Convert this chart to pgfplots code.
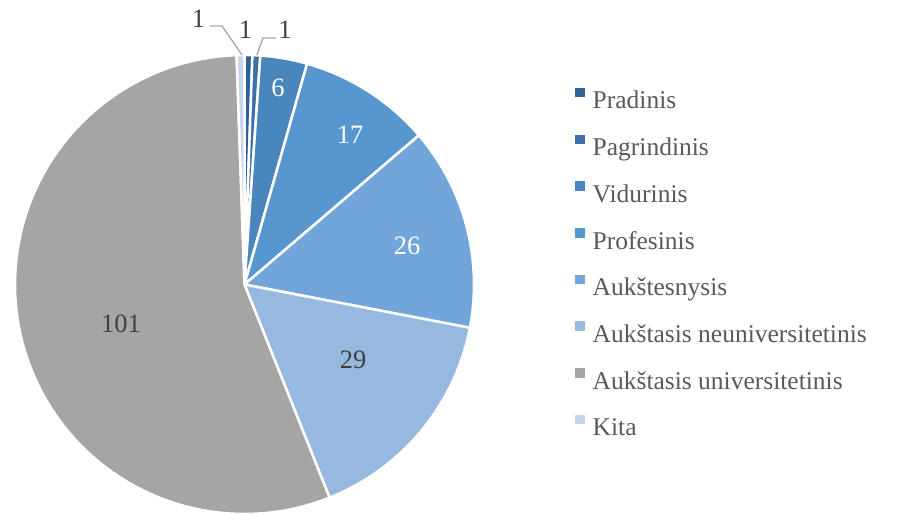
\documentclass[border=0pt]{standalone}
\usepackage{fontspec}
\setmainfont{Liberation Serif}
\usepackage{pgfplots}
\pgfplotsset{compat=1.18}
\definecolor{c1}{HTML}{2F6296}
\definecolor{c2}{HTML}{3B70A8}
\definecolor{c3}{HTML}{4A86BE}
\definecolor{c4}{HTML}{5796CE}
\definecolor{c5}{HTML}{72A5D9}
\definecolor{c6}{HTML}{97B9E0}
\definecolor{c7}{HTML}{A5A5A5}
\definecolor{c8}{HTML}{C7D6EE}
\definecolor{legtext}{HTML}{595959}
\definecolor{lab}{HTML}{404040}
\definecolor{leader}{HTML}{A6A6A6}
\def\cx{244.5}
\def\cy{229.5}
\def\R{229.5}
% total = 1+1+6+17+26+29+101+1 = 182 ; args: colour, cumulative start, cumulative end, samples
\newcommand\slice[4]{%
  \addplot[fill=#1, draw=white, line width=2.5pt, line join=round,
    domain=90-360*#3/182:90-360*#2/182, samples=#4, forget plot]
    ({\cx+\R*cos(x)},{\cy+\R*sin(x)}) -- (axis cs:\cx,\cy) -- cycle;}
\begin{document}
\begin{tikzpicture}
\begin{axis}[
  hide axis, scale only axis, width=899pt, height=514pt,
  xmin=0, xmax=899, ymin=0, ymax=514, clip=false,
  legend image code/.code={\fill[#1, draw=none] (0pt,5pt) rectangle (9.5pt,14.5pt); \path (17.5pt,0pt);},
  legend cell align=left,
  legend style={draw=none, fill=none, at={(0.6396,0.8288)}, anchor=north west,
    inner sep=0pt, outer sep=0pt, row sep=18.7pt,
    font=\fontsize{25.5}{30}\selectfont, text=legtext,
    nodes={inner sep=0pt, text height=20pt, text depth=7pt}},
]
\slice{c1}{0}{1}{5}
\slice{c2}{1}{2}{5}
\slice{c3}{2}{8}{10}
\slice{c4}{8}{25}{25}
\slice{c5}{25}{51}{35}
\slice{c6}{51}{80}{40}
\slice{c7}{80}{181}{120}
\slice{c8}{181}{182}{5}
\addlegendimage{fill=c1}\addlegendentry{Pradinis}
\addlegendimage{fill=c2}\addlegendentry{Pagrindinis}
\addlegendimage{fill=c3}\addlegendentry{Vidurinis}
\addlegendimage{fill=c4}\addlegendentry{Profesinis}
\addlegendimage{fill=c5}\addlegendentry{Aukštesnysis}
\addlegendimage{fill=c6}\addlegendentry{Aukštasis neuniversitetinis}
\addlegendimage{fill=c7}\addlegendentry{Aukštasis universitetinis}
\addlegendimage{fill=c8}\addlegendentry{Kita}
\addplot[leader, line width=1.3pt, forget plot] coordinates {(210,488) (222,488) (242,459)};
\addplot[leader, line width=1.3pt, forget plot] coordinates {(276,476) (263,476) (257,459)};
\begin{scope}[every node/.style={font=\fontsize{26.5}{31}\selectfont}]
\node[text=lab] at (axis cs:121,190) {101};
\node[text=lab] at (axis cs:353,154) {29};
\node[text=white] at (axis cs:407,268) {26};
\node[text=white] at (axis cs:350,379) {17};
\node[text=white] at (axis cs:278,426) {6};
\node[text=lab] at (axis cs:198.5,495.5) {1};
\node[text=lab] at (axis cs:245.5,484.5) {1};
\node[text=lab] at (axis cs:285,484.5) {1};
\end{scope}
\end{axis}
\pgfresetboundingbox
\path (0,0) rectangle (899pt,514pt);
\end{tikzpicture}
\end{document}
